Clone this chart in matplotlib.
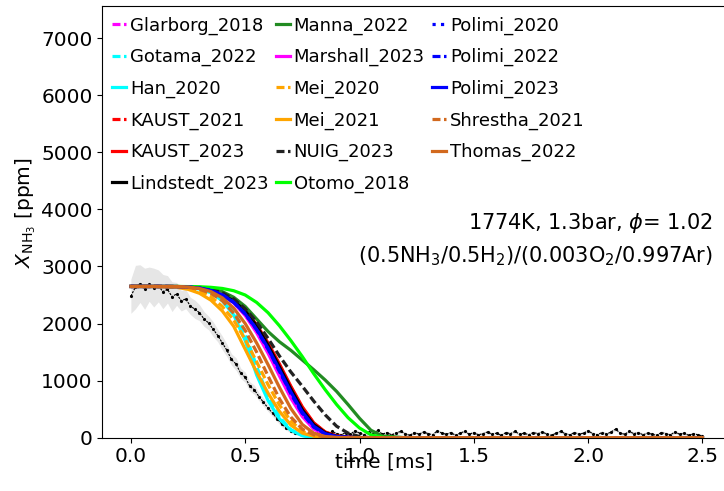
import numpy as np
import matplotlib
matplotlib.use("Agg")
import matplotlib.pyplot as plt

# model time grid [ms]
model_t = [0, 0.1, 0.2, 0.25, 0.3, 0.35, 0.4, 0.45, 0.5, 0.55, 0.6, 0.65,
           0.7, 0.75, 0.8, 0.85, 0.9, 0.95, 1.0, 1.05, 1.1, 1.2, 2.5]

# NH3 mole fraction [ppm] predicted by each mechanism
glarborg_2018 = [2650, 2650, 2648, 2640, 2625, 2590, 2510, 2375, 2160, 1870, 1520, 1120,
                 720, 390, 165, 55, 15, 3, 0, 0, 0, 0, 0]
gotama_2022 = [2650, 2650, 2648, 2638, 2610, 2560, 2440, 2220, 1820, 1250, 720, 360,
               140, 40, 8, 0, 0, 0, 0, 0, 0, 0, 0]
han_2020 = [2650, 2650, 2648, 2636, 2605, 2540, 2400, 2150, 1700, 1100, 650, 330,
            130, 35, 5, 0, 0, 0, 0, 0, 0, 0, 0]
kaust_2021 = [2650, 2650, 2649, 2642, 2627, 2592, 2520, 2400, 2215, 1960, 1640, 1270,
              880, 520, 250, 95, 28, 7, 0, 0, 0, 0, 0]
kaust_2023 = [2650, 2650, 2649, 2643, 2628, 2595, 2525, 2410, 2230, 1980, 1660, 1290,
              900, 540, 260, 100, 30, 8, 0, 0, 0, 0, 0]
lindstedt_2023 = [2650, 2650, 2649, 2644, 2630, 2600, 2535, 2420, 2230, 1960, 1620, 1240,
                  850, 490, 230, 85, 25, 6, 0, 0, 0, 0, 0]
manna_2022 = [2650, 2650, 2649, 2646, 2635, 2610, 2560, 2460, 2300, 2080, 1860, 1680,
              1530, 1360, 1190, 1010, 810, 580, 340, 130, 30, 0, 0]
marshall_2023 = [2650, 2650, 2648, 2640, 2625, 2585, 2500, 2360, 2140, 1840, 1480, 1080,
                 690, 370, 150, 50, 12, 0, 0, 0, 0, 0, 0]
mei_2020 = [2650, 2650, 2642, 2620, 2570, 2470, 2300, 2060, 1720, 1330, 930, 570,
            290, 110, 35, 10, 0, 0, 0, 0, 0, 0, 0]
mei_2021 = [2650, 2650, 2635, 2600, 2530, 2410, 2220, 1950, 1550, 1150, 780, 460,
            220, 80, 25, 5, 0, 0, 0, 0, 0, 0, 0]
nuig_2023 = [2650, 2650, 2649, 2644, 2630, 2600, 2540, 2430, 2260, 2030, 1740, 1430,
             1150, 900, 640, 400, 200, 80, 20, 0, 0, 0, 0]
otomo_2018 = [2650, 2650, 2650, 2648, 2645, 2635, 2615, 2575, 2500, 2370, 2190, 1960,
              1700, 1420, 1120, 840, 580, 350, 170, 50, 8, 0, 0]
polimi_2020 = [2650, 2650, 2648, 2640, 2622, 2585, 2505, 2375, 2175, 1900, 1560, 1170,
               780, 430, 190, 65, 18, 4, 0, 0, 0, 0, 0]
polimi_2022 = [2650, 2650, 2648, 2640, 2622, 2583, 2502, 2372, 2170, 1890, 1550, 1160,
               770, 420, 185, 62, 17, 4, 0, 0, 0, 0, 0]
polimi_2023 = [2650, 2650, 2648, 2640, 2620, 2580, 2500, 2370, 2170, 1900, 1570, 1190,
               800, 450, 200, 70, 20, 5, 0, 0, 0, 0, 0]
shrestha_2021 = [2650, 2650, 2648, 2635, 2600, 2530, 2400, 2180, 1880, 1500, 1080, 680,
                 360, 150, 50, 12, 0, 0, 0, 0, 0, 0, 0]
thomas_2022 = [2650, 2650, 2648, 2640, 2615, 2560, 2450, 2270, 2000, 1660, 1280, 880,
               510, 230, 80, 20, 5, 0, 0, 0, 0, 0, 0]

# measured NH3 trace, sampled every 0.02 ms
exp_ppm = [2480, 2640, 2700, 2610, 2690, 2630, 2660, 2560, 2600, 2470,
           2520, 2400, 2430, 2310, 2250, 2190, 2080, 2010, 1900, 1790,
           1660, 1530, 1370, 1290, 1130, 1060, 900, 840, 720, 620,
           520, 430, 330, 240, 170, 120, 80, 60, 40, 70,
           50, 90, 60, 40, 110, 70, 50, 90, 60, 120,
           80, 50, 100, 70, 130, 60, 90, 50, 80, 110,
           70, 40, 90, 60, 100, 70, 50, 120, 80, 60,
           90, 40, 80, 110, 60, 90, 50, 70, 100, 60,
           80, 40, 90, 70, 110, 60, 80, 50, 90, 70,
           100, 60, 40, 80, 110, 70, 50, 90, 60, 80,
           120, 70, 50, 90, 60, 100, 150, 80, 60, 110,
           70, 90, 50, 80, 60, 40, 90, 70, 50, 100,
           60, 80, 40, 70, 50, 30]
exp_err_head = [300, 380, 330, 360, 300, 340, 280, 300, 240, 260,
                200, 180, 170, 150, 160, 140, 130, 120, 130, 110,
                120, 110, 100, 110, 90, 90, 80, 80, 70, 70,
                60, 60, 50, 50, 40, 40, 35, 30, 30, 30, 30]
exp_err = exp_err_head + [30] * (len(exp_ppm) - len(exp_err_head))
exp_t = np.arange(len(exp_ppm)) * 0.02

DASH = (0, (2.5, 1.1))
models = [
    ("Glarborg_2018", glarborg_2018, "magenta", DASH),
    ("Gotama_2022", gotama_2022, "cyan", DASH),
    ("Han_2020", han_2020, "cyan", "-"),
    ("KAUST_2021", kaust_2021, "red", DASH),
    ("KAUST_2023", kaust_2023, "red", "-"),
    ("Lindstedt_2023", lindstedt_2023, "black", "-"),
    ("Manna_2022", manna_2022, "forestgreen", "-"),
    ("Marshall_2023", marshall_2023, "magenta", "-"),
    ("Mei_2020", mei_2020, "orange", DASH),
    ("Mei_2021", mei_2021, "orange", "-"),
    ("NUIG_2023", nuig_2023, "#222222", DASH),
    ("Otomo_2018", otomo_2018, "lime", "-"),
    ("Polimi_2020", polimi_2020, "blue", ":"),
    ("Polimi_2022", polimi_2022, "blue", DASH),
    ("Polimi_2023", polimi_2023, "blue", "-"),
    ("Shrestha_2021", shrestha_2021, "chocolate", DASH),
    ("Thomas_2022", thomas_2022, "chocolate", "-"),
]

fig = plt.figure(figsize=(7.24, 4.91), dpi=100)
ax = fig.add_axes([0.1413, 0.1086, 0.8684, 0.8798])

lo = np.array(exp_ppm) - np.array(exp_err)
hi = np.array(exp_ppm) + np.array(exp_err)
ax.fill_between(exp_t, lo, hi, color="0.9", lw=0)
ax.plot(exp_t, exp_ppm, color="k", lw=0.8, ls=(0, (2, 1)), marker=".", ms=2.5)

for name, vals, col, ls in models:
    ax.plot(model_t, vals, color=col, ls=ls, lw=2.3, label=name)

ax.set_xlim(-0.125, 2.625)
ax.set_ylim(0, 7570)
ax.set_xticks([0.0, 0.5, 1.0, 1.5, 2.0, 2.5])
ax.set_yticks(range(0, 7001, 1000))
ax.tick_params(labelsize=14.5)
ax.spines["right"].set_visible(False)

ax.set_xlabel("time [ms]", fontsize=14.5, va="top")
ax.xaxis.set_label_coords(0.448, -0.035)
ax.set_ylabel(r"$X_{\mathrm{NH_3}}$ [ppm]", fontsize=14.5)
ax.yaxis.set_label_coords(-0.102, 0.522)

ax.text(0.9714, 0.4831, r"1774K, 1.3bar, $\phi$= 1.02", transform=ax.transAxes,
        ha="right", va="baseline", fontsize=15)
ax.text(0.9714, 0.4067, r"(0.5NH$_3$/0.5H$_2$)/(0.003O$_2$/0.997Ar)",
        transform=ax.transAxes, ha="right", va="baseline", fontsize=15)

ax.legend(loc="upper left", bbox_to_anchor=(0.015, 0.975), ncol=3, fontsize=13,
          frameon=False, borderaxespad=0, borderpad=0, handlelength=0.8,
          handletextpad=0.2, columnspacing=0.4, labelspacing=0.74)

fig.savefig("out.png", dpi=100)
